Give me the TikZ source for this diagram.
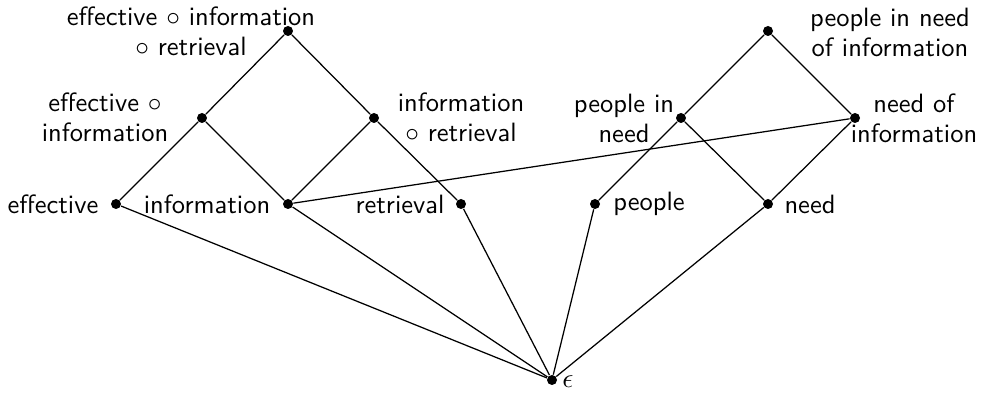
\documentclass[tikz,border=0pt]{standalone}
\begin{document}
\begin{tikzpicture}[x=0.4pt,y=-0.4pt,
  dot/.style={circle,fill=black,inner sep=0pt,minimum size=4pt},
  lbl/.style={font=\fontsize{10.6}{12}\selectfont\sffamily,align=center,inner sep=0pt},
  edge/.style={line width=0.5pt}]
\useasboundingbox (0,0) rectangle (988,397);
% nodes
\node[dot] (e) at (116,204) {};
\node[dot] (i) at (288,204) {};
\node[dot] (r) at (461,204) {};
\node[dot] (p) at (595,204) {};
\node[dot] (n) at (768,204) {};
\node[dot] (ei) at (202,118) {};
\node[dot] (ir) at (374,118) {};
\node[dot] (pn) at (681,118) {};
\node[dot] (ni) at (855,118) {};
\node[dot] (eir) at (288,31) {};
\node[dot] (pni) at (768,31) {};
\node[dot] (eps) at (552,380) {};
% labels
\node[lbl] (le) at (53,204) {effective};
\node[lbl] (li) at (207,204) {information};
\node[lbl] (lr) at (400,204) {retrieval};
\node[lbl] (lp) at (649,204) {people};
\node[lbl] (ln) at (810,204) {need};
\node[lbl] (lei) at (105,117) {effective $\circ$\\information};
\node[lbl] (lir) at (461,117) {information\\$\circ$ retrieval};
\node[lbl] (lpn) at (624,118) {people in\\need};
\node[lbl] (lni) at (914,118) {need of\\information};
\node[lbl] (leir) at (191,31) {effective $\circ$ information\\$\circ$ retrieval};
\node[lbl] (lpni) at (890,32) {people in need\\of information};
\node[lbl] (leps) at (568,382) {$\epsilon$};
% edges
\foreach \a in {e,i,r,p,n} \draw[edge] (eps) -- (\a);
\draw[edge] (e) -- (ei);
\draw[edge] (i) -- (ei);
\draw[edge] (i) -- (ir);
\draw[edge] (r) -- (ir);
\draw[edge] (ei) -- (eir);
\draw[edge] (ir) -- (eir);
\draw[edge] (p) -- (pn);
\draw[edge] (n) -- (pn);
\draw[edge] (n) -- (ni);
\draw[edge] (i) -- (ni);
\draw[edge] (pn) -- (pni);
\draw[edge] (ni) -- (pni);
\end{tikzpicture}
\end{document}
